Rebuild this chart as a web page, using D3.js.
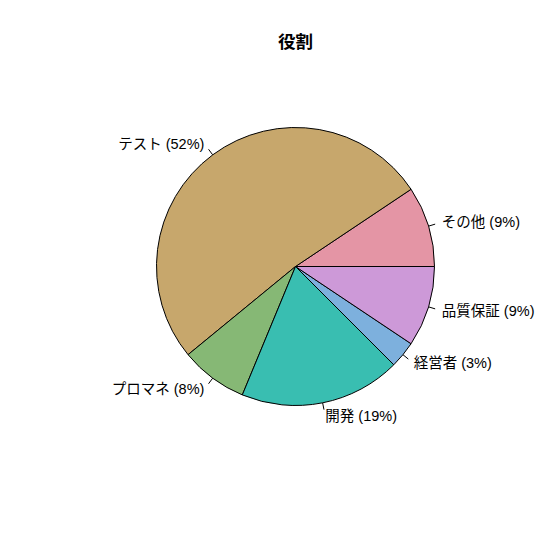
<!DOCTYPE html>
<html><head><meta charset="utf-8">
<script src="https://cdn.jsdelivr.net/npm/d3@7"></script>
<style>body{margin:0;background:#fff}</style>
</head><body>
<script>
const title = "役割";
const categories = ["その他", "テスト", "プロマネ", "開発", "経営者", "品質保証"];
const counts = [6, 33, 5, 12, 2, 6];
const colors = ["#E495A5", "#C7A76C", "#86B875", "#39BEB1", "#7DB0DD", "#CD99D8"];

const W = 553, H = 552, cx = 295.5, cy = 266.5, R = 139;
const font = "'Liberation Sans', 'Noto Sans CJK JP', sans-serif";
const total = d3.sum(counts);
const data = categories.map((c, i) => ({c, v: counts[i], col: colors[i],
  label: c + " (" + Math.round(counts[i] / total * 100) + "%)"}));

// R pie: starts at 3 o'clock, counter-clockwise. Map to d3 angles (0 = 12 o'clock, clockwise).
const pie = d3.pie().value(d => d.v).sort(null)
  .startAngle(Math.PI / 2).endAngle(Math.PI / 2 - 2 * Math.PI);
const arcs = pie(data);
const arc = d3.arc().innerRadius(0).outerRadius(R);

const svg = d3.select("body").append("svg").attr("width", W).attr("height", H);
svg.append("rect").attr("width", W).attr("height", H).attr("fill", "#fff");
const g = svg.append("g").attr("transform", `translate(${cx},${cy})`);
g.selectAll("path.s").data(arcs).join("path").attr("class", "s")
  .attr("d", arc).attr("fill", d => d.data.col)
  .attr("stroke", "#000").attr("stroke-width", 1);

arcs.forEach(a => {
  const m = (a.startAngle + a.endAngle) / 2;
  const dx = Math.sin(m), dy = -Math.cos(m);
  g.append("line").attr("x1", dx * R).attr("y1", dy * R)
    .attr("x2", dx * R * 1.05).attr("y2", dy * R * 1.05)
    .attr("stroke", "#000").attr("stroke-width", 1);
  g.append("text").attr("x", dx * R * 1.1).attr("y", dy * R * 1.1)
    .attr("text-anchor", dx > 0 ? "start" : "end")
    .attr("dominant-baseline", "central")
    .attr("font-family", font).attr("font-size", 14.5).attr("fill", "#000")
    .text(a.data.label);
});

svg.append("text").attr("x", cx).attr("y", 42).attr("text-anchor", "middle")
  .attr("dominant-baseline", "central")
  .attr("font-family", font).attr("font-size", 17.5).attr("font-weight", "bold")
  .text(title);
</script>
</body></html>
